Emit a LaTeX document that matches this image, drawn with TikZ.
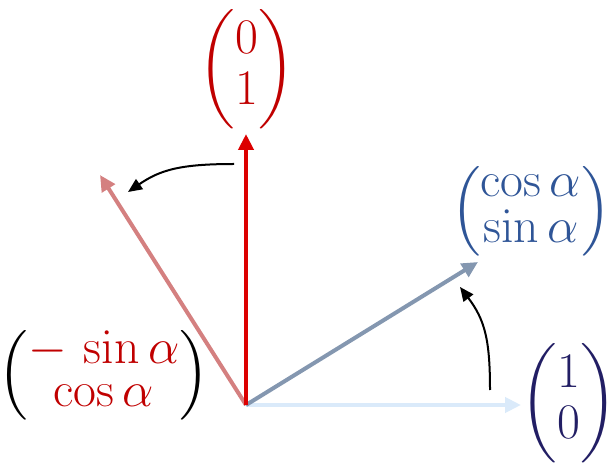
\documentclass[tikz,border=0pt]{standalone}
\usepackage{amsmath}
\usetikzlibrary{arrows.meta,positioning}
\definecolor{eycolor}{RGB}{220,0,0}
\definecolor{eylabel}{RGB}{192,0,0}
\definecolor{eyrotcolor}{RGB}{212,128,128}
\definecolor{excolor}{RGB}{218,234,250}
\definecolor{exrotcolor}{RGB}{132,151,176}
\definecolor{exrotlabel}{RGB}{47,85,151}
\definecolor{exlabel}{RGB}{34,30,100}

\begin{document}
\begin{tikzpicture}[x=0.5pt, y=-0.5pt, >=Stealth]
  \useasboundingbox (0,0) rectangle (609,469);

  \tikzset{
    vec/.style={line width=2pt, draw=#1, -{Triangle[length=8pt,width=7.5pt,fill=#1]}},
    turn/.style={line width=1pt, black, -{Triangle[length=7pt,width=6pt]}},
    lbl/.style={inner sep=0pt, font=\Huge}
  }

  % origin and vector tips (pixel grid of the picture)
  \coordinate (O)    at (246,405);
  \coordinate (ex)   at (521,405);
  \coordinate (exr)  at (478,262);
  \coordinate (eyr)  at (100,175);
  \coordinate (ey)   at (246,134);

  % unit vectors and rotated ones
  \draw[vec=excolor]    (O) -- (ex);
  \draw[vec=exrotcolor] (O) -- (exr);
  \draw[vec=eyrotcolor] (O) -- (eyr);
  \draw[vec=eycolor]    (O) -- (ey);

  % labels
  \node[lbl, eylabel] (eylbl) at (247,69)
    {$\def\arraystretch{0.85}\begin{pmatrix}0\\1\end{pmatrix}$};
  \node[lbl, exlabel] (exlbl) at (569,403)
    {$\def\arraystretch{0.85}\begin{pmatrix}1\\0\end{pmatrix}$};
  \node[lbl, exrotlabel] (exrlbl) at (531,211)
    {$\def\arraystretch{0.72}\begin{pmatrix}\cos\alpha\\\sin\alpha\end{pmatrix}$};
  \node[lbl, black] (eyrlbl) at (104,375)
    {$\def\arraystretch{0.72}\begin{pmatrix}\color{eylabel}-\,\sin\alpha\\
      \color{eylabel}\cos\alpha\end{pmatrix}$};

  % rotation arrows
  \coordinate (turnAs) at (234,164);
  \coordinate (turnAe) at (128,192);
  \coordinate (turnBs) at (490,390);
  \coordinate (turnBe) at (460,287);
  \draw[turn] (turnAs) .. controls (180,164) and (160,170) .. (turnAe);
  \draw[turn] (turnBs) .. controls (490,340) and (485,320) .. (turnBe);
\end{tikzpicture}
\end{document}
